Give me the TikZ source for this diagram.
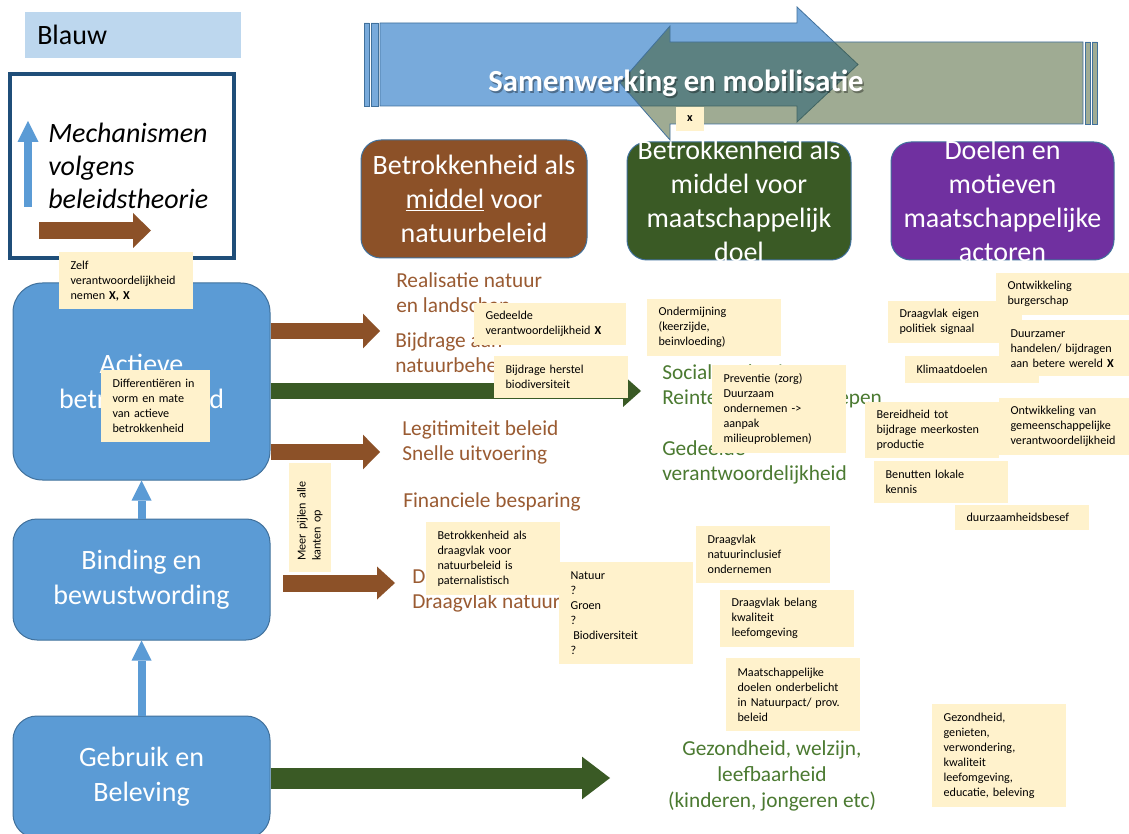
\documentclass[tikz,border=0pt]{standalone}
\usepackage{fontspec}
\setmainfont{Carlito}
\usetikzlibrary{arrows.meta}
\definecolor{boxblue}{HTML}{5B9BD5}
\definecolor{boxline}{HTML}{41719C}
\definecolor{lightblue}{HTML}{BDD7EE}
\definecolor{framecol}{HTML}{1F4E79}
\definecolor{bandblue}{HTML}{78AADB}
\definecolor{bandgreen}{HTML}{415929}
\definecolor{bandgrey}{HTML}{A0AC94}
\definecolor{hdrbrown}{HTML}{8C5128}
\definecolor{hdrgreen}{HTML}{3A5A25}
\definecolor{hdrpurple}{HTML}{7030A0}
\definecolor{txtbrown}{HTML}{9A5B32}
\definecolor{txtgreen}{HTML}{4B7A31}
\definecolor{notefill}{HTML}{FFF2CC}
\hyphenpenalty=10000
\tikzset{
  bluebox/.style={draw=boxline, fill=boxblue, line width=0.75pt, minimum width=192.75pt},
  hdrbox/.style={draw=boxline, line width=0.75pt, rounded corners=15pt, minimum width=168pt, minimum height=88.5pt},
  boxtext/.style={text=white, align=center, font=\fontsize{21}{25.5}\selectfont},
  note/.style={fill=notefill, align=left, anchor=north west, inner xsep=8.5pt, inner ysep=0pt, text width=83.5pt, font=\fontsize{9.1}{11.25}\selectfont},
  goal/.style={anchor=north west, align=left, inner sep=0pt, font=\fontsize{16}{19}\selectfont},
  brownarr/.style={draw=hdrbrown, line width=12pt, -{Triangle[length=12.75pt, width=26pt, line width=0pt]}},
  greenarr/.style={draw=hdrgreen, line width=12pt, -{Triangle[length=13.5pt, width=24pt, line width=0pt]}},
  uparr/.style={draw=boxblue, line width=6pt, -{Triangle[length=15pt, width=15pt, line width=0pt]}}
}
\begin{document}
\begin{tikzpicture}[x=0.75pt, y=-0.75pt]
\clip (0,0) rectangle (1129,834);
\fill[white] (0,0) rectangle (1129,834);

% legenda
\node[fill=lightblue, minimum width=162pt, minimum height=34.5pt] (blauw) at (133,35) {};
\node[anchor=west, inner sep=0pt, font=\fontsize{21}{25}\selectfont] (blauwtxt) at (37,35) {Blauw};

\node[draw=framecol, line width=3pt, minimum width=168pt, minimum height=138pt] (legenda) at (122,166) {};
\coordinate (upfrom) at (28,207);
\coordinate (upto) at (28,121);
\coordinate (rfrom) at (39,230.5);
\coordinate (rto) at (151,230.5);
\draw[uparr, line width=6pt, -{Triangle[length=15.75pt, width=15.75pt, line width=0pt]}] (upfrom) -- (upto);
\draw[brownarr, line width=12.75pt, -{Triangle[length=13.5pt, width=26.25pt, line width=0pt]}] (rfrom) -- (rto);
\node[anchor=north west, inner sep=0pt, align=left, font=\itshape\fontsize{21}{25}\selectfont] (mech) at (48,122.5) {Mechanismen\\volgens\\beleidstheorie};

% samenwerking en mobilisatie
\filldraw[fill=bandblue, draw=boxline, line width=0.6pt] (380,23) -- (797,23) -- (797,7) -- (858,64.5) -- (797,122) -- (797,106) -- (380,106) -- cycle;
\filldraw[fill=bandblue, draw=boxline, line width=0.6pt] (364,23) rectangle (369,106) (371,23) rectangle (378,106);
\filldraw[fill=bandgreen, fill opacity=0.5, draw=boxline, line width=0.6pt] (1083,42) -- (670,42) -- (670,26) -- (620,83) -- (670,140) -- (670,124) -- (1083,124) -- cycle;
\filldraw[fill=bandgrey, draw=boxline, line width=0.6pt] (1085,42) rectangle (1090,124) (1092,42) rectangle (1097,124);
\node[text=black, opacity=0.35, font=\bfseries\fontsize{23}{27}\selectfont] (samenschaduw) at (677.5,85) {Samenwerking en mobilisatie};
\node[text=white, font=\bfseries\fontsize{23}{27}\selectfont] (samen) at (676,83) {Samenwerking en mobilisatie};

% kolomkoppen
\node[hdrbox, fill=hdrbrown, minimum width=169.5pt, label={[boxtext]center:Betrokkenheid als\\\underline{middel} voor\\natuurbeleid}] (middelnb) at (474,199) {};
\node[hdrbox, fill=hdrgreen, label={[boxtext]center:Betrokkenheid als\\middel voor\\maatschappelijk\\doel}] (middelmd) at (739,201) {};
\node[hdrbox, fill=hdrpurple, minimum width=167.25pt, label={[boxtext]center:Doelen en\\motieven\\maatschappelijke\\actoren}] (doelen) at (1002.5,201) {};

% mechanismen
\node[bluebox, rounded corners=22pt, minimum height=147.75pt, label={[boxtext, font=\fontsize{21}{26}\selectfont]center:Actieve\\betrokkenheid}] (actief) at (141.5,381.5) {};
\node[bluebox, rounded corners=18pt, minimum height=90.75pt, label={[boxtext, font=\fontsize{21}{26}\selectfont]center:Binding en\\bewustwording}] (binding) at (141.5,579.5) {};
\node[bluebox, rounded corners=18pt, minimum height=91.5pt, label={[boxtext, font=\fontsize{21}{26}\selectfont]center:Gebruik en\\Beleving}] (gebruik) at (141.5,777) {};

\draw[uparr] (binding.north) -- (actief.south);
\draw[uparr] (gebruik.north) -- (binding.south);

\coordinate (realtip) at (380,331);
\coordinate (socialtip) at (641,391);
\coordinate (legittip) at (380,452);
\coordinate (draagfrom) at (283,583);
\coordinate (draagtip) at (395,583);
\coordinate (gezondtip) at (610,778);
\draw[brownarr] (actief.east |- realtip) -- (realtip);
\draw[greenarr] (actief.east |- socialtip) -- (socialtip);
\draw[brownarr] (actief.east |- legittip) -- (legittip);
\draw[brownarr, line width=12.75pt, -{Triangle[length=13.5pt, width=24.75pt, line width=0pt]}] (draagfrom) -- (draagtip);
\draw[greenarr, line width=15.75pt, -{Triangle[length=21pt, width=32pt, line width=0pt]}] (gebruik.east |- gezondtip) -- (gezondtip);

% doelen
\node[goal, text=txtbrown] (realisatie) at (396,272) {Realisatie natuur\\en landschap};
\node[goal, text=txtbrown] (bijdrage) at (395,332) {Bijdrage aan\\natuurbeheer};
\node[goal, text=txtbrown] (legitimiteit) at (402,420) {Legitimiteit beleid\\Snelle uitvoering};
\node[goal, text=txtbrown] (financieel) at (403,492) {Financiele besparing};
\node[goal, text=txtbrown] (draagvlak) at (412,568) {Draagvlak\\Draagvlak natuur};
\node[goal, text=txtgreen] (sociaal) at (662,364) {Sociale cohesie\\Reintegratie doelgroepen};
\node[goal, text=txtgreen] (gedeeld) at (662,440) {Gedeelde\\verantwoordelijkheid};
\node[goal, text=txtgreen, anchor=north, align=center, font=\fontsize{16}{19.5}\selectfont] (gezond) at (772,740) {Gezondheid, welzijn,\\leefbaarheid\\(kinderen, jongeren etc)};

% geeltjes
\node[fill=notefill, minimum width=21pt, minimum height=18pt, inner sep=0pt, font=\bfseries\fontsize{9.1}{11}\selectfont] (xnote) at (690,119) {x};
\node[note, minimum height=42.75pt] (zelf) at (59,252) {Zelf\\verantwoordelijkheid\\nemen \textbf{X, X}};
\node[note, text width=64.75pt, minimum height=54pt] (differentieren) at (101,370) {Differentiëren in\\vorm en mate\\van actieve\\betrokkenheid};
\node[note, text width=97pt, minimum height=31.5pt] (gedeeldx) at (474,303) {Gedeelde\\verantwoordelijkheid \textbf{X}};
\node[note, minimum height=31.5pt] (herstel) at (494,356) {Bijdrage herstel\\biodiversiteit};
\node[note, minimum height=42.75pt] (ondermijning) at (647,299) {Ondermijning\\(keerzijde,\\beinvloeding)};
\node[note, minimum height=66pt] (preventie) at (712,365) {Preventie (zorg)\\Duurzaam\\ondernemen ->\\aanpak\\milieuproblemen)};
\node[note, minimum height=31.5pt] (eigen) at (888,301) {Draagvlak eigen\\politiek signaal};
\node[note, minimum height=20.25pt] (klimaat) at (905,356) {Klimaatdoelen};
\node[note, text width=82.75pt, minimum height=31.5pt] (burgerschap) at (996,273) {Ontwikkeling\\burgerschap};
\node[note, text width=80.5pt, minimum height=42pt] (duurzamer) at (999,320) {Duurzamer\\handelen/ bijdragen\\aan betere wereld \textbf{X}};
\node[note, minimum height=42pt] (bereid) at (865,402) {Bereidheid tot\\bijdrage meerkosten\\productie};
\node[note, text width=80.5pt, minimum height=42.75pt] (gemeen) at (999,398) {Ontwikkeling van\\gemeenschappelijke\\verantwoordelijkheid};
\node[note, minimum height=31.5pt] (lokaal) at (874,461) {Benutten lokale\\kennis};
\node[note, minimum height=18.75pt] (besef) at (955,505) {duurzaamheidsbesef};
\node[note, anchor=center, rotate=90, text width=64.75pt, minimum height=31.5pt] (pijlen) at (310,517.5) {Meer pijlen alle\\kanten op};
\node[note, minimum height=54.75pt] (paternalistisch) at (426,522) {Betrokkenheid als\\draagvlak voor\\natuurbeleid is\\paternalistisch};
\node[note, minimum height=76.5pt] (groen) at (559,562) {Natuur\\?\\Groen\\?\\\hspace*{2pt}Biodiversiteit\\?};
\node[note, minimum height=42.75pt] (inclusief) at (696,526) {Draagvlak\\natuurinclusief\\ondernemen};
\node[note, minimum height=42.75pt] (belang) at (720,590) {Draagvlak belang\\kwaliteit\\leefomgeving};
\node[note, minimum height=54.75pt] (onderbelicht) at (726,658) {Maatschappelijke\\doelen onderbelicht\\in Natuurpact/ prov.\\beleid};
\node[note, minimum height=77.25pt] (gezondnote) at (932,704) {Gezondheid,\\genieten,\\verwondering,\\kwaliteit\\leefomgeving,\\educatie, beleving};
\end{tikzpicture}
\end{document}
